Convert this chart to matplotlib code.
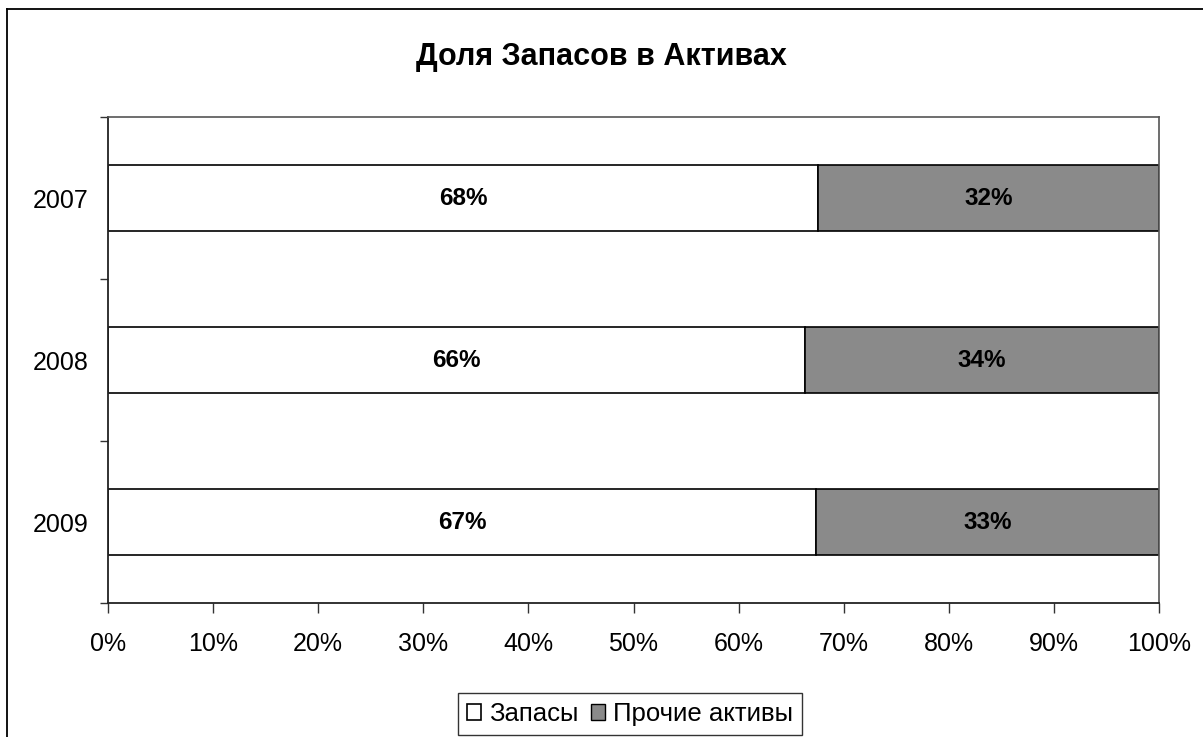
import matplotlib
matplotlib.use("Agg")
import matplotlib.pyplot as plt
from matplotlib.lines import Line2D
from matplotlib.patches import Patch
from matplotlib.ticker import FixedLocator, PercentFormatter

plt.rcParams['font.family'] = ['Liberation Sans', 'DejaVu Sans']

title = "Доля Запасов в Активах"
years = ["2007", "2008", "2009"]
zapasy = [67.6, 66.3, 67.4]
prochie = [32.4, 33.7, 32.6]
zapasy_labels = ["68%", "66%", "67%"]
prochie_labels = ["32%", "34%", "33%"]
series_names = ["Запасы", "Прочие активы"]
x_ticks = [0, 10, 20, 30, 40, 50, 60, 70, 80, 90, 100]

W, H = 1203, 737
fig = plt.figure(figsize=(W / 100, H / 100), dpi=100)
ax = fig.add_axes([108 / W, 1 - 603 / H, (1159 - 108) / W, (603 - 117) / H])

pos = list(range(len(years)))
bh = 0.41
gray = '#8a8a8a'
ax.barh(pos, zapasy, height=bh, color='white', edgecolor='black', linewidth=1.2)
ax.barh(pos, prochie, left=zapasy, height=bh, color=gray, edgecolor='black', linewidth=1.2)

for i in pos:
    ax.text(zapasy[i] / 2, i, zapasy_labels[i], ha='center', va='center',
            fontsize=17.5, fontweight='bold', color='black')
    ax.text(zapasy[i] + prochie[i] / 2, i, prochie_labels[i], ha='center', va='center',
            fontsize=17.5, fontweight='bold', color='black')

ax.set_xlim(0, 100)
ax.set_ylim(len(years) - 0.5, -0.5)
ax.set_yticks(pos)
ax.set_yticklabels(years, fontsize=18)
ax.yaxis.set_minor_locator(FixedLocator([-0.5, 0.5, 1.5, 2.5]))
ax.tick_params(axis='y', which='major', length=0, pad=14)
ax.tick_params(axis='y', which='minor', length=6, width=1, direction='out', color='#333333')

ax.xaxis.set_major_locator(FixedLocator(x_ticks))
ax.xaxis.set_major_formatter(PercentFormatter(decimals=0))
ax.tick_params(axis='x', which='major', length=7, width=1, direction='out', labelsize=18,
               pad=14, color='#333333')

for s in ['left', 'bottom']:
    ax.spines[s].set_color('#222222')
    ax.spines[s].set_linewidth(1.3)
for s in ['top', 'right']:
    ax.spines[s].set_color('#555555')
    ax.spines[s].set_linewidth(1.2)

fig.text(0.5, 1 - 57 / H, title, ha='center', va='center', fontsize=22, fontweight='bold')

handles = [Patch(facecolor='white', edgecolor='black', linewidth=1.2),
           Patch(facecolor=gray, edgecolor='black', linewidth=1.0)]
leg = fig.legend(handles, series_names, loc='center', bbox_to_anchor=(630 / W, 1 - 714 / H),
                 ncol=2, fontsize=18.5, frameon=True, fancybox=False, edgecolor='black',
                 handlelength=0.55, handleheight=0.55, handletextpad=0.3, columnspacing=0.5,
                 borderpad=0.35, borderaxespad=0)
leg.get_frame().set_linewidth(1.0)

# outer chart frame
fig.add_artist(Line2D([7 / W, 7 / W], [0, 1 - 9 / H], transform=fig.transFigure,
                      color='black', linewidth=1.3))
fig.add_artist(Line2D([7 / W, 1], [1 - 9 / H, 1 - 9 / H], transform=fig.transFigure,
                      color='black', linewidth=1.3))

fig.savefig("out.png", dpi=100, facecolor='white')
